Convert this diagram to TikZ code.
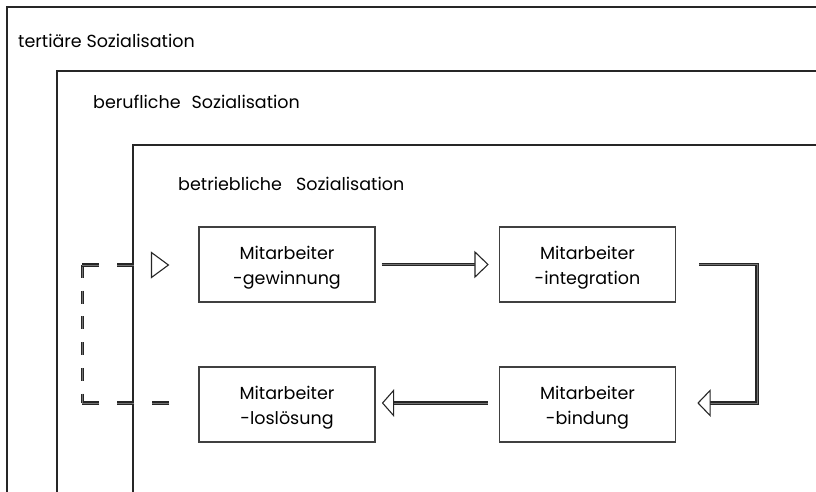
\documentclass[tikz,border=0pt]{standalone}
\usepackage{fontspec}
\setmainfont{Poppins}
\usetikzlibrary{calc}
\tikzset{
  frame/.style={draw=black!85, line width=2.4pt},
  innerframe/.style={draw=black!85, line width=1.8pt},
  stage/.style={draw=black!75, line width=1.1pt, minimum width=176pt, minimum height=75pt,
    align=center, font=\fontsize{17.5}{25}\selectfont, inner sep=0pt},
  title/.style={anchor=base west, inner sep=0pt, font=\fontsize{17.5}{20}\selectfont},
  flow/.style={draw=black!85, line width=1.3pt, double=black!55, double distance=1pt},
  tipshape/.style={draw=black!85, line width=1.1pt, fill=white, line join=miter},
  dashflow/.style={flow}
}
\newcommand{\firstline}{\rule{0pt}{19pt}}
\begin{document}
\begin{tikzpicture}[x=1pt,y=-1pt]
\useasboundingbox (0,0) rectangle (816,491);
% nested frames
\draw[frame] (817,7) -- (7,7) -- (7,492);
\draw[frame] (817,71) -- (57,71) -- (57,492);
\draw[innerframe] (817,145) -- (133,145) -- (133,492);
\node[title] (t1) at (18,47) {tertiäre Sozialisation};
\node[title] (t2) at (93,108) {berufliche\hspace{11pt}Sozialisation};
\node[title] (t3) at (178,190) {betriebliche\hspace{14pt}Sozialisation};
% stages
\node[stage] (g) at (287,264.5) {\firstline Mitarbeiter\\-gewinnung};
\node[stage] (i) at (587.5,264.5) {\firstline Mitarbeiter\\-integration};
\node[stage] (b) at (587.5,404.5) {\firstline Mitarbeiter\\-bindung};
\node[stage] (l) at (287,404.5) {\firstline Mitarbeiter\\-loslösung};
% g -> i
\coordinate (gi1) at ($(g.east)+(6,0)$);
\coordinate (gi2) at ($(i.west)+(-24,0)$);
\draw[flow] (gi1) -- (gi2);
\draw[tipshape] ($(i.west)+(-11,0)$) -- ++(-13,-12.5) -- ++(0,25) -- cycle;
% i -> b
\coordinate (ib1) at ($(i.east)+(23,0)$);
\coordinate (ib2) at ($(i.east)+(81,0)$);
\coordinate (ib3) at ($(b.east)+(81,-1.5)$);
\coordinate (ib4) at ($(b.east)+(34,-1.5)$);
\draw[flow, line join=miter] (ib1) -- (ib2) -- (ib3) -- (ib4);
\draw[tipshape] ($(b.east)+(22,-1.5)$) -- ++(12,-12.5) -- ++(0,25) -- cycle;
% b -> l
\coordinate (bl1) at ($(b.west)+(-11,-1.5)$);
\coordinate (bl2) at ($(l.east)+(18,-1.5)$);
\draw[flow] (bl1) -- (bl2);
\draw[tipshape] ($(l.east)+(7,-1.5)$) -- ++(11,-12.5) -- ++(0,25) -- cycle;
% l -> g (dashed feedback)
\coordinate (lg1) at ($(l.west)+(-29,-1.5)$);
\coordinate (lg2) at ($(l.west)+(-116,-1.5)$);
\coordinate (lg3) at ($(g.west)+(-116,0.5)$);
\coordinate (lg4) at ($(g.west)+(-64,0.5)$);
\draw[dashflow, dash pattern=on 17pt off 18pt] (lg1) -- (lg2);
\draw[dashflow, dash pattern=on 13pt off 12.7pt] (lg3) -- (lg2);
\draw[dashflow, dash pattern=on 17pt off 18pt] (lg3) -- (lg4);
\draw[tipshape] ($(g.west)+(-30,0.5)$) -- ++(-17,-12.5) -- ++(0,25) -- cycle;
\end{tikzpicture}
\end{document}
